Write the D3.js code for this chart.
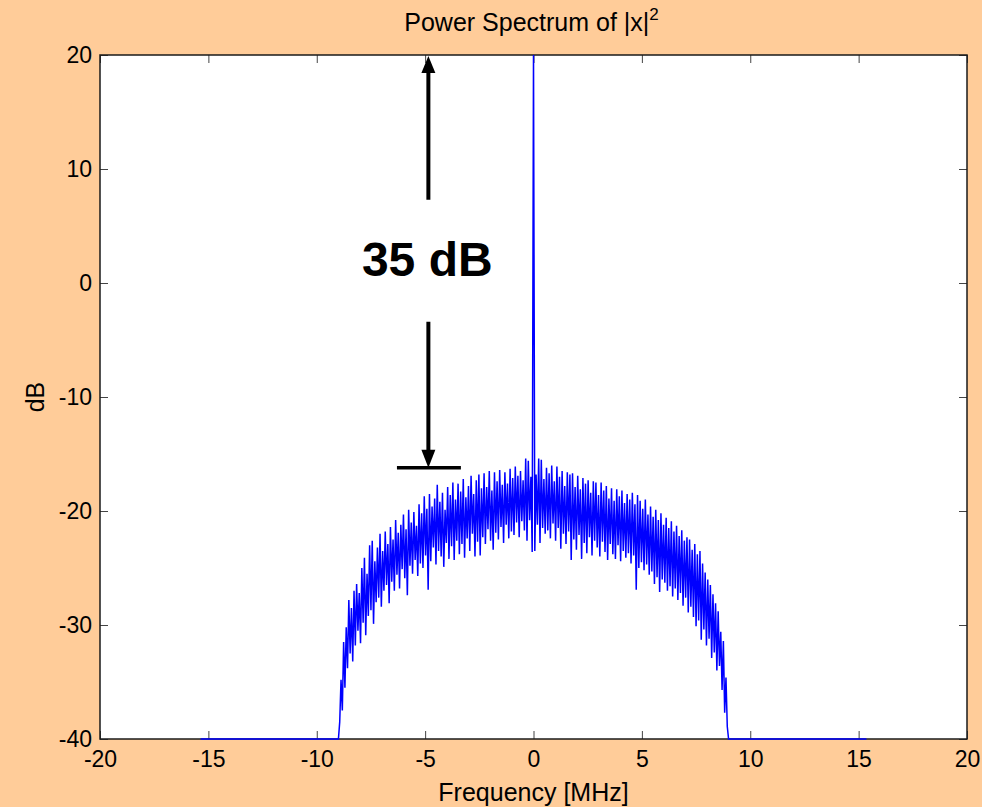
<!DOCTYPE html>
<html>
<head>
<meta charset="utf-8">
<script src="https://cdn.jsdelivr.net/npm/d3@7"></script>
<style>
  html, body { margin:0; padding:0; background:#ffcc99; }
  svg { display:block; font-family:"Liberation Sans", Arial, sans-serif; }
  .tick text { font-size:23px; fill:#000; }
  .tick line { stroke:#444; }
</style>
</head>
<body>
<div id="root"></div>
<script>
// ——— données
const xTicks = [-20, -15, -10, -5, 0, 5, 10, 15, 20];
const yTicks = [-40, -30, -20, -10, 0, 10, 20];
const spanMHz = [-15.36, 15.36];   // étendue du spectre calculé
const floorDb = -40;
const bandStartMHz = -9.0;
const binMHz = 0.06;
const bandDb = [
  -40, -38.5, -34.8, -37.5, -31.5, -35.5, -30.2, -33.8, -27.8, -32.5,
  -28.5, -33.2, -27.0, -31.8, -26.4, -30.5, -27.2, -31.6, -25.0, -29.8,
  -24.1, -30.9, -25.5, -29.2, -23.0, -28.7, -22.6, -29.9, -24.4, -28.0,
  -23.2, -27.6, -22.0, -28.4, -23.5, -27.0, -21.8, -26.5, -22.9, -28.1,
  -21.4, -26.2, -22.5, -27.0, -20.8, -25.6, -21.9, -26.8, -21.2, -25.1,
  -20.3, -25.9, -21.6, -27.4, -19.9, -24.8, -21.0, -25.5, -20.1, -24.3,
  -21.3, -25.7, -19.4, -24.6, -20.2, -25.0, -18.7, -23.9, -19.8, -26.9,
  -18.5, -24.4, -19.6, -23.2, -18.9, -24.7, -17.7, -23.5, -19.2, -24.0,
  -18.4, -24.9, -19.9, -22.8, -17.9, -24.2, -18.6, -23.1, -17.5, -24.3,
  -19.0, -22.6, -17.6, -23.8, -18.3, -22.9, -17.2, -24.1, -18.8, -22.4,
  -17.8, -23.5, -16.9, -22.0, -18.5, -24.0, -17.3, -22.7, -16.8, -23.9,
  -18.0, -22.3, -16.7, -22.9, -17.9, -21.6, -16.5, -22.6, -18.2, -23.4,
  -16.6, -21.9, -17.4, -22.5, -16.4, -21.4, -17.7, -22.8, -16.6, -21.2,
  -17.6, -22.4, -16.3, -21.8, -17.1, -22.1, -16.1, -21.0, -16.9, -22.3,
  -16.5, -20.9, -17.3, -21.7, -15.4, -22.6, -15.6, -20.8, -17.0, -23.6,
  20, -23.5, -16.8, -21.2, -15.4, -22.8, -15.5, -21.5, -17.2, -22.0,
  -16.2, -21.7, -16.7, -22.4, -16.0, -21.1, -17.4, -22.6, -16.1, -21.5,
  -17.0, -23.3, -16.5, -22.0, -17.8, -22.9, -16.6, -21.8, -16.8, -24.3,
  -16.7, -22.5, -17.9, -23.4, -16.9, -22.1, -18.1, -24.2, -17.1, -22.8,
  -17.6, -23.7, -17.3, -22.3, -18.4, -23.9, -17.4, -22.6, -17.5, -23.2,
  -18.6, -24.0, -17.5, -22.7, -18.2, -23.6, -17.8, -24.3, -18.9, -22.9,
  -18.0, -23.8, -19.1, -24.2, -18.1, -23.0, -18.7, -24.4, -18.2, -23.5,
  -19.3, -24.1, -18.5, -23.7, -19.0, -24.6, -18.4, -23.9, -19.4, -26.9,
  -18.6, -25.0, -19.1, -24.5, -19.8, -25.2, -19.0, -24.7, -20.3, -25.6,
  -19.6, -25.3, -20.5, -26.4, -19.9, -25.8, -20.8, -27.1, -20.2, -26.0,
  -21.2, -26.3, -20.6, -27.0, -21.5, -26.6, -20.9, -27.5, -21.8, -26.8,
  -21.3, -27.8, -22.2, -27.2, -21.7, -28.3, -22.6, -27.6, -22.3, -28.9,
  -22.5, -28.4, -23.4, -29.3, -22.9, -30.1, -23.8, -29.6, -23.5, -31.3,
  -24.6, -30.4, -25.4, -31.8, -26.0, -31.2, -26.5, -32.9, -27.3, -32.4,
  -28.1, -34.0, -28.8, -33.6, -30.6, -35.7, -31.4, -37.7, -34.6, -38.9,
  -40
];

// annotation "35 dB"
const annot = { mhz: -4.85, topDb: 20, upEndDb: 7.3, downStartDb: -3.4, tipDb: -16.2, barMHz: [-6.3, -3.35], textMHz: -4.9, textDb: 0.6 };

// ——— mise en page
const width = 982, height = 807;
const margin = { top: 55, right: 15, bottom: 68, left: 100 };
const innerW = width - margin.left - margin.right;
const innerH = height - margin.top - margin.bottom;

const svg = d3.select("#root").append("svg")
  .attr("width", width).attr("height", height);

svg.append("rect").attr("width", width).attr("height", height).attr("fill", "#ffcc99");

const g = svg.append("g").attr("transform", `translate(${margin.left},${margin.top})`);

const x = d3.scaleLinear().domain([-20, 20]).range([0, innerW]);
const y = d3.scaleLinear().domain([-40, 20]).range([innerH, 0]);

g.append("rect").attr("width", innerW).attr("height", innerH).attr("fill", "#fff");

const fmt = d => String(d);

// axes (ticks vers l'intérieur, comme MATLAB)
g.append("g").attr("transform", `translate(0,${innerH})`)
  .call(d3.axisBottom(x).tickValues(xTicks).tickSize(-8).tickPadding(12).tickFormat(fmt))
  .call(a => a.select(".domain").remove());
g.append("g")
  .call(d3.axisTop(x).tickValues(xTicks).tickSize(-8).tickFormat(""))
  .call(a => a.select(".domain").remove());
g.append("g")
  .call(d3.axisLeft(y).tickValues(yTicks).tickSize(-8).tickPadding(8).tickFormat(fmt))
  .call(a => a.select(".domain").remove());
g.append("g").attr("transform", `translate(${innerW},0)`)
  .call(d3.axisRight(y).tickValues(yTicks).tickSize(-8).tickFormat(""))
  .call(a => a.select(".domain").remove());

g.selectAll(".tick text").attr("font-family", null).attr("font-size", null);

// cadre
g.append("rect").attr("width", innerW).attr("height", innerH)
  .attr("fill", "none").attr("stroke", "#1a1a1a").attr("stroke-width", 1.5);

// ——— spectre
const pts = [[spanMHz[0], floorDb]]
  .concat(bandDb.map((v, i) => [bandStartMHz + i * binMHz, v]))
  .concat([[spanMHz[1], floorDb]]);

const line = d3.line().x(d => x(d[0])).y(d => y(d[1]));

g.append("path").datum(pts)
  .attr("d", line)
  .attr("fill", "none")
  .attr("stroke", "#0000ff")
  .attr("stroke-width", 1.5);

// ——— flèches
const ax = x(annot.mhz);
const headW = 7, headL = 18;
g.append("line")
  .attr("x1", ax).attr("x2", ax)
  .attr("y1", y(annot.topDb) + headL - 2).attr("y2", y(annot.upEndDb))
  .attr("stroke", "#000").attr("stroke-width", 4);
g.append("path")
  .attr("d", `M${ax},${y(annot.topDb) + 1} L${ax - headW},${y(annot.topDb) + headL} L${ax + headW},${y(annot.topDb) + headL} Z`)
  .attr("fill", "#000");
g.append("line")
  .attr("x1", ax).attr("x2", ax)
  .attr("y1", y(annot.downStartDb)).attr("y2", y(annot.tipDb) - headL + 2)
  .attr("stroke", "#000").attr("stroke-width", 4);
g.append("path")
  .attr("d", `M${ax},${y(annot.tipDb)} L${ax - headW},${y(annot.tipDb) - headL} L${ax + headW},${y(annot.tipDb) - headL} Z`)
  .attr("fill", "#000");
g.append("line")
  .attr("x1", x(annot.barMHz[0])).attr("x2", x(annot.barMHz[1]))
  .attr("y1", y(annot.tipDb)).attr("y2", y(annot.tipDb))
  .attr("stroke", "#000").attr("stroke-width", 3.5);

g.append("text")
  .attr("x", x(annot.textMHz)).attr("y", y(annot.textDb))
  .attr("text-anchor", "middle")
  .attr("font-size", 48).attr("font-weight", "bold")
  .text("35 dB");

// ——— titres
const title = svg.append("text")
  .attr("x", margin.left + innerW / 2 - 2).attr("y", 31)
  .attr("text-anchor", "middle").attr("font-size", 25);
title.append("tspan").text("Power Spectrum of |x|");
title.append("tspan").attr("dy", -11).attr("font-size", 17).text("2");

svg.append("text")
  .attr("x", margin.left + innerW / 2).attr("y", 801)
  .attr("text-anchor", "middle").attr("font-size", 25)
  .text("Frequency [MHz]");

svg.append("text")
  .attr("transform", `translate(44,${margin.top + innerH / 2}) rotate(-90)`)
  .attr("text-anchor", "middle").attr("font-size", 25)
  .text("dB");
</script>
</body>
</html>
